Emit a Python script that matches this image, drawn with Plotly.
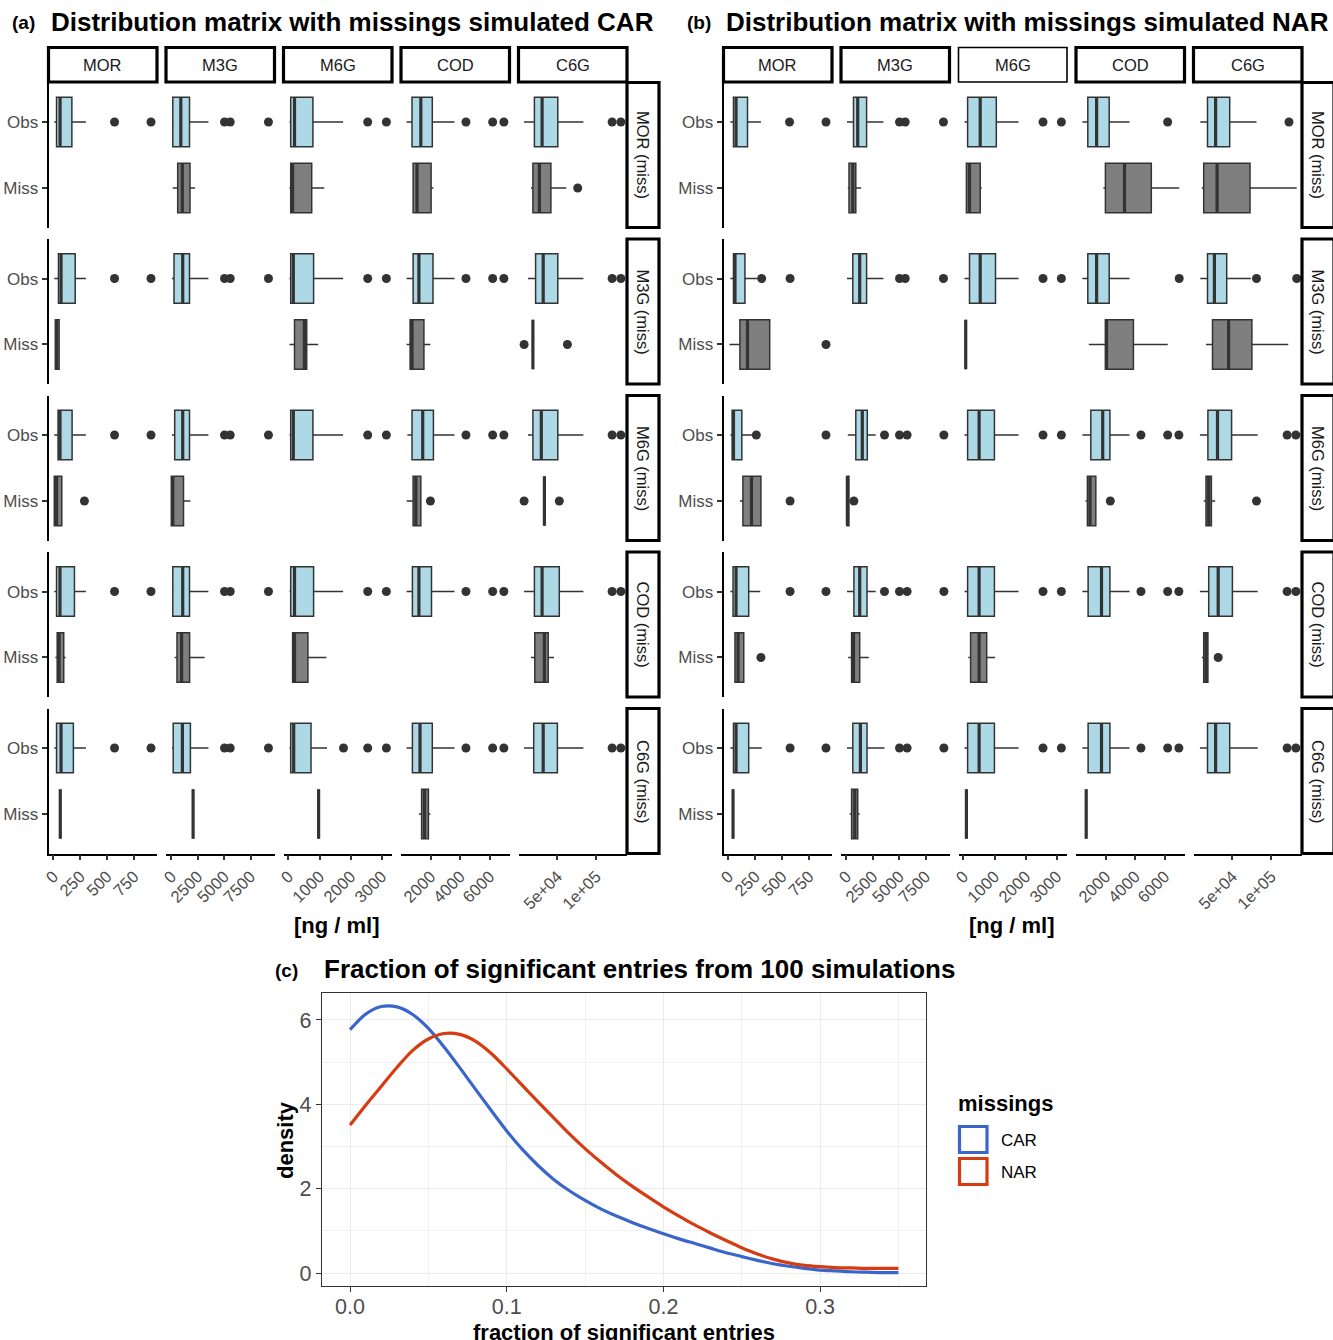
import plotly.graph_objects as go

# ---------------- data ----------------
VARS = ["MOR", "M3G", "M6G", "COD", "C6G"]
ROW_LABELS = ["MOR (miss)", "M3G (miss)", "M6G (miss)", "COD (miss)", "C6G (miss)"]
# box stats per column: [lower whisker, q1, median, q3, upper whisker]
# ---- panel (a) CAR ----
CAR_MOR_OBS = [[8, 29, 62, 172, 303], [66, 142, 900, 1723, 3513], [35, 74, 196, 788, 1759],
               [366, 732, 1329, 2108, 3614], [6977, 20284, 30233, 50517, 83592]]
CAR_MOR_OBS_OUT = [[570, 910], [5040, 5580, 9200], [2550, 3150], [4390, 6200, 6960], [120700, 132000]]
CAR_MOR_MISS = [None, [133, 606, 1042, 1771, 2254], [35, 74, 135, 749, 1154],
                [770, 807, 1071, 2027, 2183], [15891, 18346, 26744, 41602, 61370]]
CAR_MOR_MISS_OUT = [[], [], [], [], [76227]]

CAR_M3G_OBS = [[8, 47, 71, 203, 303], [66, 256, 1080, 1723, 3513], [35, 74, 158, 810, 1759],
               [366, 807, 1200, 2156, 3614], [12016, 21835, 31654, 50517, 83592]]
CAR_M3G_OBS_OUT = [[570, 910], [5040, 5580, 9200], [2550, 3150], [4390, 6200, 6960], [120700, 132000]]
CAR_M3G_MISS = [[18, 18, 29, 53, 61], None, [35, 196, 514, 588, 958],
                [366, 603, 732, 1539, 1980], [18346, 18346, 18346, 18346, 18346]]
CAR_M3G_MISS_OUT = [[], [], [], [], [6977, 62920]]

CAR_M6G_OBS = [[8, 43, 61, 174, 303], [66, 322, 1080, 1723, 3513], [35, 74, 158, 788, 1759],
               [420, 732, 1458, 2183, 3614], [12016, 18346, 29199, 50517, 83592]]
CAR_M6G_OBS_OUT = [[570, 910], [5040, 5580, 9200], [2550, 3150], [4390, 6200, 6960], [120700, 132000]]
CAR_M6G_MISS = [[8, 8, 29, 78, 78], [0, 0, 142, 1155, 1809], None,
                [366, 807, 990, 1329, 1329], [33204, 33204, 33204, 33204, 33204]]
CAR_M6G_MISS_OUT = [[289], [], [], [1980], [6977, 52455]]

CAR_COD_OBS = [[8, 29, 61, 196, 303], [66, 142, 1080, 1723, 3513], [35, 74, 196, 810, 1759],
               [366, 759, 1200, 2054, 3614], [6977, 20284, 30233, 52455, 83592]]
CAR_COD_OBS_OUT = [[570, 910], [5040, 5580, 9200], [2550, 3150], [4390, 6200, 6960], [120700, 132000]]
CAR_COD_MISS = [[18, 35, 53, 96, 114], [322, 540, 975, 1733, 3153], [135, 135, 196, 627, 1219],
                None, [15891, 20801, 33204, 38114, 45607]]
CAR_COD_MISS_OUT = [[], [], [], [], []]

CAR_C6G_OBS = [[8, 29, 71, 186, 303], [66, 180, 1051, 1809, 3513], [35, 74, 170, 727, 1241],
               [366, 759, 1275, 2108, 3614], [6977, 19380, 31654, 50000, 83592]]
CAR_C6G_OBS_OUT = [[570, 910], [5040, 5580, 9200], [1772, 2550, 3150], [4390, 6200, 6960], [120700, 132000]]
CAR_C6G_MISS = [[64, 64, 64, 64, 64], [2064, 2064, 2064, 2064, 2064], [971, 971, 971, 971, 971],
                [1200, 1383, 1586, 1844, 1980], None]
CAR_C6G_MISS_OUT = [[], [], [], [], []]

# ---- panel (b) NAR ----
NAR_MOR_OBS = [[18, 47, 71, 178, 303], [66, 682, 1080, 1922, 3513], [35, 135, 540, 1058, 1772],
               [420, 786, 1383, 2237, 3614], [8527, 17829, 28295, 46512, 81137]]
NAR_MOR_OBS_OUT = [[570, 910], [5040, 5580, 9200], [2560, 3150], [6200], [123100]]
NAR_MOR_MISS = [None, [142, 256, 616, 900, 1411], [74, 96, 196, 540, 588],
                [1844, 1980, 3275, 5092, 6983], [10465, 12920, 30233, 72739, 133075]]
NAR_MOR_MISS_OUT = [[], [], [], [], []]

NAR_M3G_OBS = [[18, 47, 61, 154, 270], [66, 616, 1269, 1922, 3513], [35, 196, 540, 1032, 1772],
               [420, 786, 1383, 2237, 3614], [8527, 17829, 26744, 42636, 73773]]
NAR_M3G_OBS_OUT = [[310, 575], [5040, 5580, 9200], [2560, 3150], [6983], [81137, 133075]]
NAR_M3G_MISS = [[10, 107, 178, 385, 385], None, [74, 74, 74, 74, 74],
                [854, 1980, 2054, 3878, 6203], [15891, 24289, 45090, 75194, 122222]]
NAR_M3G_MISS_OUT = [[910], [], [], [], []]

NAR_M6G_OBS = [[18, 35, 47, 125, 230], [142, 900, 1515, 1989, 2784], [35, 135, 505, 997, 1772],
               [420, 990, 1797, 2285, 3614], [8010, 18346, 30749, 48966, 82687]]
NAR_M6G_OBS_OUT = [[260, 910], [3617, 5038, 5758, 9242], [2560, 3150], [4390, 6200, 6960], [120700, 132000]]
NAR_M6G_MISS = [[107, 135, 215, 303, 303], [66, 66, 100, 250, 322], None,
                [631, 759, 936, 1329, 1329], [12920, 15891, 19380, 22868, 27778]]
NAR_M6G_MISS_OUT = [[575], [717], [], [2312], [81137]]

NAR_COD_OBS = [[18, 43, 71, 189, 297], [66, 720, 1269, 1960, 2784], [35, 135, 505, 997, 1772],
               [420, 807, 1715, 2285, 3614], [8010, 19380, 31654, 50000, 82687]]
NAR_COD_OBS_OUT = [[575, 910], [3617, 5038, 5758, 9242], [2560, 3150], [4390, 6200, 6960], [120700, 132000]]
NAR_COD_MISS = [[61, 61, 90, 143, 143], [180, 502, 682, 1269, 2131], [158, 231, 505, 749, 1019],
                None, [10465, 12920, 15891, 18346, 18346]]
NAR_COD_MISS_OUT = [[303], [], [], [], [31654]]

NAR_C6G_OBS = [[18, 47, 71, 189, 311], [66, 616, 1335, 1960, 3617], [35, 135, 505, 997, 1772],
               [420, 807, 1715, 2285, 3614], [8010, 17829, 28295, 46512, 82687]]
NAR_C6G_OBS_OUT = [[575, 910], [5038, 5758, 9242], [2560, 3150], [4390, 6200, 6960], [120700, 132000]]
NAR_C6G_MISS = [[43, 43, 43, 43, 43], [322, 502, 800, 1080, 1269], [96, 96, 96, 96, 96],
                [678, 678, 678, 678, 678], None]
NAR_C6G_MISS_OUT = [[], [], [], [], []]

# x scale per column
X_RANGES = [[-46, 966], [-502, 9773], [-158, 3331], [-14, 7342], [-258, 139922]]
X_TICKVALS = [[0, 250, 500, 750], [0, 2500, 5000, 7500], [0, 1000, 2000, 3000],
              [2000, 4000, 6000], [50000, 100000]]
X_TICKTEXT = [["0", "250", "500", "750"], ["0", "2500", "5000", "7500"],
              ["0", "1000", "2000", "3000"], ["2000", "4000", "6000"], ["5e+04", "1e+05"]]

# ---- panel (c) densities ----
DENS_X = [0.00, 0.01, 0.02, 0.03, 0.04, 0.05, 0.06, 0.07, 0.08, 0.09,
          0.10, 0.11, 0.12, 0.13, 0.14, 0.15, 0.16, 0.17, 0.18, 0.19,
          0.20, 0.21, 0.22, 0.23, 0.24, 0.25, 0.26, 0.27, 0.28, 0.29,
          0.30, 0.31, 0.32, 0.33, 0.34, 0.35]
DENS_CAR = [5.77, 6.14, 6.32, 6.31, 6.13, 5.80, 5.36, 4.87, 4.36, 3.86,
            3.37, 2.93, 2.55, 2.22, 1.95, 1.72, 1.52, 1.35, 1.20, 1.06,
            0.93, 0.81, 0.70, 0.59, 0.48, 0.39, 0.30, 0.22, 0.16, 0.11,
            0.07, 0.05, 0.03, 0.02, 0.01, 0.01]
DENS_NAR = [3.51, 3.98, 4.43, 4.88, 5.28, 5.55, 5.68, 5.66, 5.50, 5.21,
            4.84, 4.45, 4.06, 3.68, 3.30, 2.95, 2.63, 2.33, 2.06, 1.81,
            1.57, 1.35, 1.14, 0.95, 0.77, 0.60, 0.45, 0.33, 0.24, 0.18,
            0.15, 0.13, 0.12, 0.11, 0.11, 0.11]

PANELS = [
    ("(a)", "Distribution matrix with missings simulated CAR", [
        (CAR_MOR_OBS, CAR_MOR_OBS_OUT, CAR_MOR_MISS, CAR_MOR_MISS_OUT),
        (CAR_M3G_OBS, CAR_M3G_OBS_OUT, CAR_M3G_MISS, CAR_M3G_MISS_OUT),
        (CAR_M6G_OBS, CAR_M6G_OBS_OUT, CAR_M6G_MISS, CAR_M6G_MISS_OUT),
        (CAR_COD_OBS, CAR_COD_OBS_OUT, CAR_COD_MISS, CAR_COD_MISS_OUT),
        (CAR_C6G_OBS, CAR_C6G_OBS_OUT, CAR_C6G_MISS, CAR_C6G_MISS_OUT)]),
    ("(b)", "Distribution matrix with missings simulated NAR", [
        (NAR_MOR_OBS, NAR_MOR_OBS_OUT, NAR_MOR_MISS, NAR_MOR_MISS_OUT),
        (NAR_M3G_OBS, NAR_M3G_OBS_OUT, NAR_M3G_MISS, NAR_M3G_MISS_OUT),
        (NAR_M6G_OBS, NAR_M6G_OBS_OUT, NAR_M6G_MISS, NAR_M6G_MISS_OUT),
        (NAR_COD_OBS, NAR_COD_OBS_OUT, NAR_COD_MISS, NAR_COD_MISS_OUT),
        (NAR_C6G_OBS, NAR_C6G_OBS_OUT, NAR_C6G_MISS, NAR_C6G_MISS_OUT)]),
]

# ---------------- layout helpers ----------------
W, H = 1333, 1340
FONT = "Liberation Sans, Arial, Helvetica, sans-serif"
DARK = "#333333"
TICKC = "#4D4D4D"
OBS_FILL = "#ADD8E6"
MISS_FILL = "#7F7F7F"
BLUE = "#3A66CC"
RED = "#D63C12"


def fx(px):
    return px / W


def fy(py):
    return 1 - py / H


def ax(i):
    return "" if i == 1 else str(i)


COL_X0 = [48.5, 166, 283.5, 401, 518.5]
COL_W = 108.5
ROW_Y0 = [82.5 + i * 156.5 for i in range(5)]
ROW_H = 145
PANEL_DX = [0, 675]
BOX_W = 0.75
POS = {"Obs": 2, "Miss": 1}

fig = go.Figure()
layout = dict(width=W, height=H, margin=dict(l=0, r=0, t=0, b=0),
              plot_bgcolor="white", paper_bgcolor="white", showlegend=False,
              boxmode="overlay", font=dict(family=FONT, color="black"))
shapes = []
annotations = []


def add_box(stats, pos, fill, xa, ya):
    wl, q1, med, q3, wr = stats
    fig.add_trace(go.Box(y=[pos], q1=[q1], median=[med], q3=[q3], lowerfence=[wl],
                         upperfence=[wr], orientation="h", width=BOX_W, fillcolor=fill,
                         line=dict(color=DARK, width=1.5), whiskerwidth=0, boxpoints=False,
                         xaxis="x" + ax(xa), yaxis="y" + ax(ya), hoverinfo="skip",
                         showlegend=False))
    fig.add_trace(go.Scatter(x=[med, med], y=[pos - BOX_W / 2, pos + BOX_W / 2], mode="lines",
                             line=dict(color=DARK, width=3.2), xaxis="x" + ax(xa),
                             yaxis="y" + ax(ya), hoverinfo="skip", showlegend=False))


def add_out(vals, pos, xa, ya):
    if not vals:
        return
    fig.add_trace(go.Scatter(x=vals, y=[pos] * len(vals), mode="markers",
                             marker=dict(color=DARK, size=9), xaxis="x" + ax(xa),
                             yaxis="y" + ax(ya), hoverinfo="skip", showlegend=False))


for p, (tag, title, rows) in enumerate(PANELS):
    dx = PANEL_DX[p]
    for c in range(5):
        xi = p * 5 + c + 1
        x0 = COL_X0[c] + dx
        layout["xaxis" + ax(xi)] = dict(
            domain=[fx(x0), fx(x0 + COL_W)], range=X_RANGES[c], anchor="y" + ax(p * 5 + 5),
            showline=True, linecolor="black", linewidth=1.8, ticks="outside", ticklen=5,
            tickwidth=1.5, tickcolor=DARK, tickvals=X_TICKVALS[c], ticktext=X_TICKTEXT[c],
            tickangle=-45, tickfont=dict(size=16.5, color=TICKC, family=FONT),
            showgrid=False, zeroline=False, automargin=False, fixedrange=True)
        shapes.append(dict(type="rect", xref="paper", yref="paper", x0=fx(x0), x1=fx(x0 + COL_W),
                           y0=fy(82), y1=fy(47.5), fillcolor="white",
                           line=dict(color="black", width=1.6 if (p == 1 and c == 2) else 3.2)))
        annotations.append(dict(xref="paper", yref="paper", x=fx(x0 + COL_W / 2), y=fy(65),
                                text=VARS[c], showarrow=False, xanchor="center", yanchor="middle",
                                font=dict(size=16.5, family=FONT, color="#1A1A1A")))
    for r in range(5):
        yi = p * 5 + r + 1
        y0 = ROW_Y0[r]
        layout["yaxis" + ax(yi)] = dict(
            domain=[fy(y0 + ROW_H), fy(y0)], range=[0.4, 2.6], anchor="x" + ax(p * 5 + 1),
            showline=True, linecolor="black", linewidth=1.8, ticks="outside", ticklen=5,
            tickwidth=1.5, tickcolor=DARK, tickvals=[1, 2], ticktext=["Miss", "Obs"],
            tickfont=dict(size=17, color=TICKC, family=FONT), showgrid=False,
            zeroline=False, automargin=False, fixedrange=True)
        sx0 = 627 + dx
        shapes.append(dict(type="rect", xref="paper", yref="paper", x0=fx(sx0), x1=fx(sx0 + 32),
                           y0=fy(y0 + ROW_H), y1=fy(y0), fillcolor="white",
                           line=dict(color="black", width=3.2)))
        annotations.append(dict(xref="paper", yref="paper", x=fx(sx0 + 16), y=fy(y0 + ROW_H / 2),
                                text=ROW_LABELS[r], showarrow=False, textangle=90,
                                xanchor="center", yanchor="middle",
                                font=dict(size=16.5, family=FONT, color="#1A1A1A")))
        obs, obs_out, miss, miss_out = rows[r]
        for c in range(5):
            xi = p * 5 + c + 1
            add_box(obs[c], POS["Obs"], OBS_FILL, xi, yi)
            add_out(obs_out[c], POS["Obs"], xi, yi)
            if miss[c] is not None:
                add_box(miss[c], POS["Miss"], MISS_FILL, xi, yi)
                add_out(miss_out[c], POS["Miss"], xi, yi)
    annotations.append(dict(xref="paper", yref="paper", x=fx(10 + dx), y=fy(22), text="<b>%s</b>" % tag,
                            showarrow=False, xanchor="left", yanchor="middle",
                            font=dict(size=19, family=FONT, color="black")))
    annotations.append(dict(xref="paper", yref="paper", x=fx(49 + dx), y=fy(22), text="<b>%s</b>" % title,
                            showarrow=False, xanchor="left", yanchor="middle",
                            font=dict(size=26, family=FONT, color="black")))
    annotations.append(dict(xref="paper", yref="paper", x=fx(337 + dx), y=fy(925), text="<b>[ng / ml]</b>",
                            showarrow=False, xanchor="center", yanchor="middle",
                            font=dict(size=22, family=FONT, color="black")))

# ---------------- panel (c) ----------------
fig.add_trace(go.Scatter(x=DENS_X, y=DENS_CAR, mode="lines",
                         line=dict(color=BLUE, width=3.2, shape="spline", smoothing=0.8),
                         xaxis="x11", yaxis="y11", name="CAR", showlegend=False))
fig.add_trace(go.Scatter(x=DENS_X, y=DENS_NAR, mode="lines",
                         line=dict(color=RED, width=3.2, shape="spline", smoothing=0.8),
                         xaxis="x11", yaxis="y11", name="NAR", showlegend=False))

layout["xaxis11"] = dict(domain=[fx(322), fx(926)], range=[-0.0179, 0.3676], anchor="y11",
                         showline=True, mirror=True, linecolor=DARK, linewidth=1.4,
                         ticks="outside", ticklen=5, tickwidth=1.3, tickcolor=DARK,
                         tick0=0, dtick=0.1, tickformat=".1f", ticklabelstandoff=-4,
                         tickfont=dict(size=21.5, color=TICKC, family=FONT),
                         showgrid=True, gridcolor="#EBEBEB", gridwidth=1.3,
                         minor=dict(showgrid=True, gridcolor="#F0F0F0", gridwidth=0.9, dtick=0.05, tick0=0),
                         zeroline=False, automargin=False, fixedrange=True)
layout["yaxis11"] = dict(domain=[fy(1286), fy(993)], range=[-0.308, 6.64], anchor="x11",
                         showline=True, mirror=True, linecolor=DARK, linewidth=1.4,
                         ticks="outside", ticklen=5, tickwidth=1.3, tickcolor=DARK,
                         tick0=0, dtick=2,
                         tickfont=dict(size=21.5, color=TICKC, family=FONT),
                         showgrid=True, gridcolor="#EBEBEB", gridwidth=1.3,
                         minor=dict(showgrid=True, gridcolor="#F0F0F0", gridwidth=0.9, dtick=1, tick0=0),
                         zeroline=False, automargin=False, fixedrange=True)

annotations += [
    dict(xref="paper", yref="paper", x=fx(273), y=fy(970), text="<b>(c)</b>", showarrow=False,
         xanchor="left", yanchor="middle", font=dict(size=19, family=FONT, color="black")),
    dict(xref="paper", yref="paper", x=fx(322), y=fy(969),
         text="<b>Fraction of significant entries from 100 simulations</b>", showarrow=False,
         xanchor="left", yanchor="middle", font=dict(size=26, family=FONT, color="black")),
    dict(xref="paper", yref="paper", x=fx(285), y=fy(1140), text="<b>density</b>", showarrow=False,
         textangle=-90, xanchor="center", yanchor="middle", font=dict(size=22, family=FONT, color="black")),
    dict(xref="paper", yref="paper", x=fx(624), y=fy(1332), text="<b>fraction of significant entries</b>",
         showarrow=False, xanchor="center", yanchor="middle", font=dict(size=22, family=FONT, color="black")),
    dict(xref="paper", yref="paper", x=fx(956), y=fy(1103), text="<b>missings</b>", showarrow=False,
         xanchor="left", yanchor="middle", font=dict(size=22, family=FONT, color="black")),
    dict(xref="paper", yref="paper", x=fx(999), y=fy(1140), text="CAR", showarrow=False,
         xanchor="left", yanchor="middle", font=dict(size=17, family=FONT, color="black")),
    dict(xref="paper", yref="paper", x=fx(999), y=fy(1172), text="NAR", showarrow=False,
         xanchor="left", yanchor="middle", font=dict(size=17, family=FONT, color="black")),
]
shapes += [
    dict(type="rect", xref="paper", yref="paper", x0=fx(959.5), x1=fx(987), y0=fy(1152.5), y1=fy(1126.5),
         line=dict(color=BLUE, width=3.2), fillcolor="white"),
    dict(type="rect", xref="paper", yref="paper", x0=fx(959.5), x1=fx(987), y0=fy(1184.5), y1=fy(1158.5),
         line=dict(color=RED, width=3.2), fillcolor="white"),
]

layout["shapes"] = shapes
layout["annotations"] = annotations
fig.update_layout(**layout)
fig.write_html("out.html", config={"displayModeBar": False},
               post_script="document.body.style.margin='0px';document.body.style.overflow='hidden';")
